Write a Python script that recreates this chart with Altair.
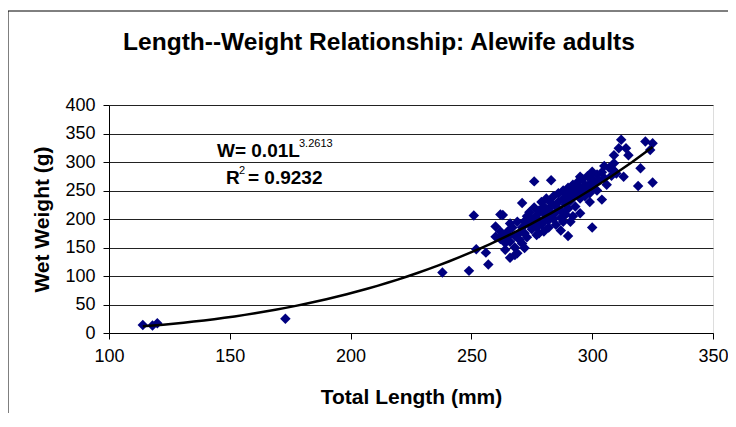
import altair as alt
import pandas as pd

# Total length (mm) and wet weight (g)
lengths = [114, 118, 120, 173, 238, 249, 251, 252, 256, 257, 260, 262, 264, 265, 266, 266, 268,
           271, 272, 271, 276, 283, 277, 280, 290, 300, 304, 299, 300, 305, 295, 312, 309, 315,
           314, 311, 309, 313, 310, 320, 319, 325, 322, 325, 324, 270, 262, 260, 263,
           262, 263, 264, 265, 266, 267, 268, 268, 269, 270, 269,
           271, 272, 272, 273, 273, 274, 274, 275, 275, 276, 276, 277, 277, 278, 278, 279, 279, 280, 280, 280,
           281, 281, 282, 282, 283, 283, 284, 284, 285, 285, 286, 286, 287, 287, 288, 288, 289, 289, 290, 290, 290,
           291, 291, 292, 292, 293, 293, 294, 294, 295, 295, 296, 296, 297, 297, 298, 298, 299, 299, 300, 300,
           301, 302, 302, 303, 304, 305, 306, 307, 308, 309,
           278, 282, 285, 288, 292, 295, 291, 287]
weights = [14, 13, 17, 25, 106, 109, 206, 147, 141, 120, 187, 208, 146, 169, 132, 192, 137,
           228, 149, 157, 266, 268, 172, 178, 170, 185, 234, 230, 283, 293, 274, 339, 312, 312,
           324, 324, 298, 274, 280, 289, 258, 264, 336, 333, 321, 163, 178, 169, 207,
           165, 172, 158, 178, 160, 185, 170, 150, 195, 176, 140,
           185, 196, 175, 205, 168, 190, 212, 182, 200, 220, 193, 207, 186, 215, 198, 230, 190, 210, 222, 195,
           205, 236, 218, 198, 228, 210, 240, 200, 222, 212, 245, 230, 215, 202, 236, 250, 225, 208, 242, 255, 218,
           232, 248, 260, 238, 222, 252, 245, 265, 236, 255, 248, 270, 240, 260, 252, 275, 262, 245, 258, 270,
           262, 250, 278, 268, 282, 272, 260, 290, 276, 285,
           175, 185, 190, 195, 205, 210, 195, 180]

x_ticks = [100, 150, 200, 250, 300, 350]
y_ticks = [0, 50, 100, 150, 200, 250, 300, 350, 400]

title_text = ["Length--Weight Relationship: Alewife adults"]
x_title = "Total Length (mm)"
y_title = "Wet Weight (g)"
eq_main = ["W= 0.01L"]
eq_sup = ["3.2613"]
r_main = ["R"]
r_sup = ["2"]
r_rest = ["= 0.9232"]

df = pd.DataFrame({"L": lengths, "W": weights})

FONT = "Liberation Sans"

x_enc = alt.X("L:Q", scale=alt.Scale(domain=[100, 350], nice=False, zero=False),
              axis=alt.Axis(values=x_ticks, title=x_title, grid=False, tickSize=6,
                            labelPadding=8, labelFontSize=18, labelFont=FONT,
                            labelOverlap=False, labelFlush=False, labelBound=False,
                            titleFont=FONT, titleFontSize=21, titleFontWeight="bold",
                            titleX=302, titleY=64, titleBaseline="middle",
                            domainColor="black", tickColor="black", labelColor="black",
                            titleColor="black"))
y_enc = alt.Y("W:Q", scale=alt.Scale(domain=[0, 400], nice=False, zero=True),
              axis=alt.Axis(values=y_ticks, tickCount=9, title=y_title, grid=True,
                            gridColor="#222222",
                            gridWidth=1, tickSize=6, labelPadding=8, labelFontSize=18,
                            labelOverlap=False, labelBound=False, labelFlush=False,
                            labelFont=FONT, titleFont=FONT, titleFontSize=21,
                            titleFontWeight="bold", titleX=-67, titleY=114, titleAngle=-90,
                            titleAlign="center", titleBaseline="middle",
                            domainColor="black", tickColor="black", labelColor="black",
                            titleColor="black"))

one = pd.DataFrame({"k": [0]})
frame_top = alt.Chart(one).mark_rule(color="black", strokeWidth=1).encode(
    x=alt.value(-101), x2=alt.value(619), y=alt.value(-94))
frame_left = alt.Chart(one).mark_rule(color="black", strokeWidth=1).encode(
    x=alt.value(-101), y=alt.value(-94), y2=alt.value(400))

points = alt.Chart(df).mark_point(
    shape="diamond", filled=True, size=110, color="#000080", opacity=1
).encode(x=x_enc, y=y_enc)

trend = alt.Chart(df).transform_regression(
    "L", "W", method="pow"
).mark_line(color="black", strokeWidth=2.5).encode(x=x_enc, y=y_enc)


def label(values, x, y, size, weight, align="left"):
    return alt.Chart(pd.DataFrame({"t": values})).mark_text(
        align=align, baseline="alphabetic", font=FONT, fontSize=size,
        fontWeight=weight, color="black"
    ).encode(text="t:N", x=alt.value(x), y=alt.value(y))


ann = (label(eq_main, 108, 52, 19, "bold") + label(eq_sup, 190, 42, 11, "normal")
       + label(r_main, 117, 79, 19, "bold") + label(r_sup, 130, 69, 11, "normal")
       + label(r_rest, 139, 79, 19, "bold"))

title = label(title_text, 270, -55, 24.5, "bold", align="center")

chart = alt.layer(frame_top, frame_left, points, trend, ann, title).properties(
    width=604, height=228,
    autosize=alt.AutoSizeParams(type="none"),
    padding={"left": 101, "top": 97, "right": 15, "bottom": 80},
).configure_view(
    fill="#C0C0C0", stroke="#808080", strokeWidth=1
).configure(background="white")

chart.save("out.html", embed_options={"renderer": "svg", "actions": False})
